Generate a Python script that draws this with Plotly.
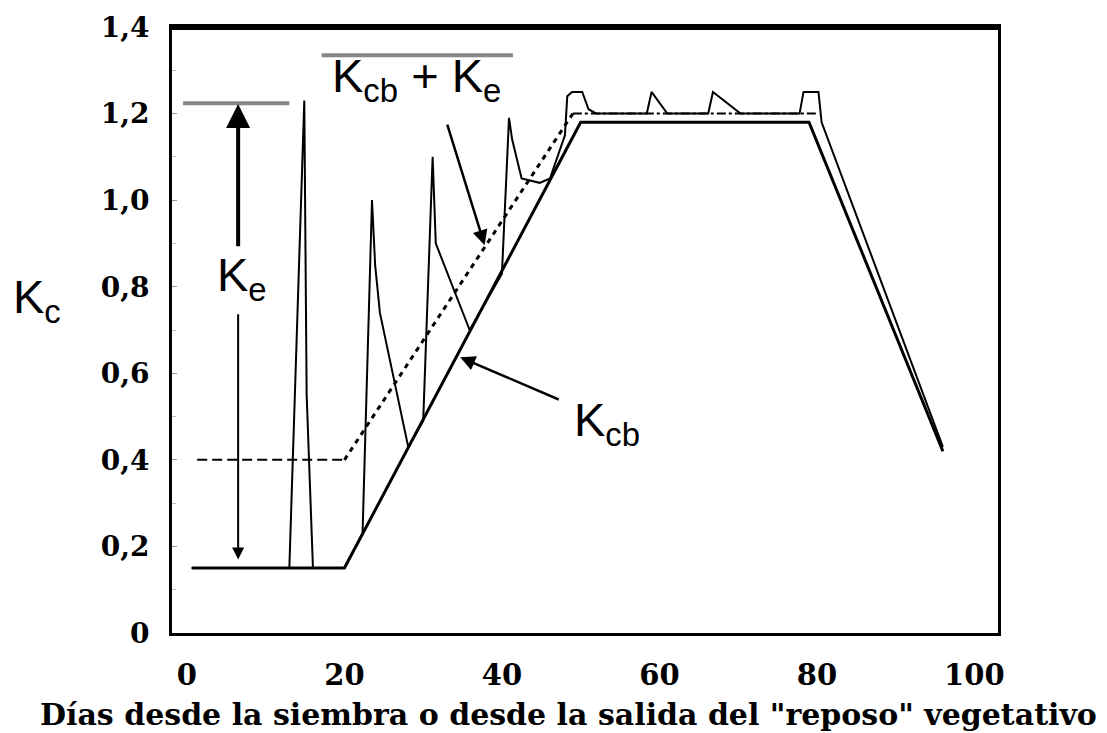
import plotly.graph_objects as go

# Curvas (días, Kc)
kcb_days = [0.6, 20, 50, 79, 96]
kcb_vals = [0.15, 0.15, 1.18, 1.18, 0.42]

kc_ini_days = [1.3, 20]
kc_ini_vals = [0.40, 0.40]
kc_dev_days = [20, 49]
kc_dev_vals = [0.40, 1.20]
kc_mid_days = [49, 80]
kc_mid_vals = [1.20, 1.20]

kcke_days = [0.6, 13, 14.9, 15.2, 16, 20, 22.3, 23.5, 23.9, 24.5, 28.1, 30,
             31.2, 31.6, 35.9, 40.0, 40.9, 41.3, 42.5, 44.8, 46.1, 48.0,
             48.3, 48.9, 50.2, 51.0, 52, 58.4, 59.0, 61.0, 66.2, 66.8, 70.3,
             77.8, 78.3, 80.2, 80.6, 96]
kcke_vals = [0.15, 0.15, 1.23, 0.55, 0.15, 0.15, 0.23, 1.00, 0.85, 0.74, 0.43, 0.49,
             1.10, 0.90, 0.70, 0.83, 1.19, 1.14, 1.05, 1.04, 1.05, 1.15,
             1.24, 1.25, 1.25, 1.21, 1.20, 1.20, 1.25, 1.20, 1.20, 1.25, 1.20,
             1.20, 1.25, 1.25, 1.18, 0.43]

# Líneas de referencia de las etiquetas
ke_top_days = [-0.5, 13]
ke_top_vals = [1.224, 1.224]
over_days = [17.1, 41.4]
over_vals = [1.335, 1.335]

y_ticks = [0, 0.2, 0.4, 0.6, 0.8, 1.0, 1.2, 1.4]
y_labels = ["0", "0,2", "0,4", "0,6", "0,8", "1,0", "1,2", "1,4"]
x_ticks = [0, 20, 40, 60, 80, 100]
x_labels = ["0", "20", "40", "60", "80", "100"]

SERIF = "DejaVu Serif"
SANS = "Liberation Sans, Arial"

fig = go.Figure()

fig.add_trace(go.Scatter(x=ke_top_days, y=ke_top_vals, mode="lines",
                         line=dict(color="#888888", width=4)))
fig.add_trace(go.Scatter(x=over_days, y=over_vals, mode="lines",
                         line=dict(color="#888888", width=4)))

fig.add_trace(go.Scatter(x=kc_ini_days, y=kc_ini_vals, mode="lines",
                         line=dict(color="black", width=2, dash="10px,5px")))
fig.add_trace(go.Scatter(x=kc_dev_days, y=kc_dev_vals, mode="lines",
                         line=dict(color="black", width=3, dash="5px,5px")))
fig.add_trace(go.Scatter(x=kc_mid_days, y=kc_mid_vals, mode="lines",
                         line=dict(color="black", width=2, dash="dashdot")))

fig.add_trace(go.Scatter(x=kcke_days, y=kcke_vals, mode="lines",
                         line=dict(color="black", width=2)))
fig.add_trace(go.Scatter(x=kcb_days, y=kcb_vals, mode="lines",
                         line=dict(color="black", width=3)))

# Flechas
arrows = [
    # (x cabeza, y cabeza, x cola, y cola, ancho)
    (6.5, 1.222, 6.5, 0.89, 4),
    (6.5, 0.17, 6.5, 0.74, 2),
    (37.8, 0.896, 33.0, 1.178, 2.5),
    (34.7, 0.637, 47.4, 0.538, 2.5),
]
for hx, hy, tx, ty, w in arrows:
    fig.add_annotation(x=hx, y=hy, ax=tx, ay=ty, xref="x", yref="y",
                       axref="x", ayref="y", text="", showarrow=True,
                       arrowhead=2, arrowsize=1.2, arrowwidth=w,
                       arrowcolor="black")

lab_font = dict(family=SANS, size=47, color="black")
fig.add_annotation(x=7.0, y=0.821, text="K<sub>e</sub>", showarrow=False,
                   font=lab_font)
fig.add_annotation(x=53.3, y=0.485, text="K<sub>cb</sub>", showarrow=False,
                   font=lab_font)
fig.add_annotation(x=29.2, y=1.279, text="K<sub>cb</sub> + K<sub>e</sub>",
                   showarrow=False, font=lab_font)
fig.add_annotation(x=-0.195, y=0.549, xref="paper", yref="paper",
                   text="K<sub>c</sub>", showarrow=False, font=lab_font)

fig.add_annotation(x=0.4806, y=-0.134, xref="paper", yref="paper",
                   yanchor="middle",
                   text='Días desde la siembra o desde la salida del "reposo" vegetativo',
                   showarrow=False,
                   font=dict(family=SERIF, size=30, color="black", weight="bold"))

# Marco superior grueso
fig.add_shape(type="line", xref="paper", yref="paper", x0=0, x1=1, y0=1, y1=1,
              line=dict(color="black", width=6))

fig.update_layout(
    width=1099, height=725,
    margin=dict(l=164, r=109, t=19, b=100),
    plot_bgcolor="white", paper_bgcolor="white",
    showlegend=False,
    xaxis=dict(range=[-1.9, 103.0], tickvals=x_ticks, ticktext=x_labels,
               showgrid=False, zeroline=False, showline=True, mirror=True,
               linecolor="black", linewidth=3, ticks="", automargin=False,
               ticklabelstandoff=14,
               tickfont=dict(family=SERIF, size=29, color="black", weight="bold")),
    yaxis=dict(range=[0, 1.4], tickvals=y_ticks, ticktext=y_labels,
               showgrid=False, zeroline=False, showline=True, mirror=True,
               linecolor="black", linewidth=3, ticks="inside", ticklen=5,
               tickcolor="#999999", tickwidth=1, automargin=False,
               minor=dict(dtick=0.1, ticks="inside", ticklen=4, tickcolor="#bbbbbb"),
               ticklabelstandoff=14,
               tickfont=dict(family=SERIF, size=28, color="black", weight="bold")),
)

fig.write_html("out.html")
